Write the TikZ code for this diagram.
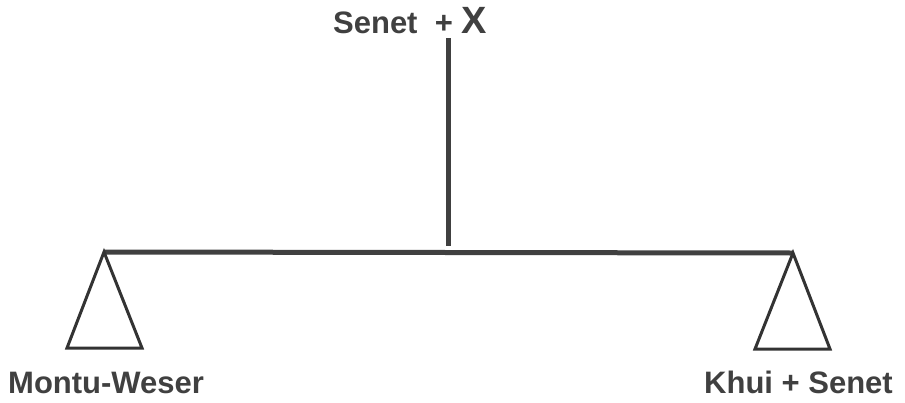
\documentclass[tikz,border=0pt]{standalone}
\usepackage{fontspec}
\setmainfont{Liberation Sans}
\usepackage{tikz}
\usetikzlibrary{positioning,calc}

\begin{document}
\begin{tikzpicture}[
    x=1pt, y=-1pt,
    lab/.style={font=\fontsize{31}{36}\selectfont\bfseries, text=black!75, inner sep=0pt},
    beam/.style={line width=5pt, draw=black!75},
    post/.style={line width=3pt, draw=black!80, line join=miter},
]
\useasboundingbox (0,0) rectangle (905,402);

% top label and pole
\node[lab, anchor=base] (top) at (410,33) {Senet\ \ + \fontsize{38}{40}\selectfont X};
\coordinate (poletop) at (448,38);
\coordinate (polebot) at (448,246);
\draw[beam] (poletop) -- (polebot);

% beam
\coordinate (bl) at (104,252);
\coordinate (br) at (793,253);
\draw[beam] (bl) -- (br);

% supports
\draw[post] (bl) -- (67,348) -- (142,348) -- cycle;
\draw[post] (br) -- (755,349) -- (830,349) -- cycle;

% bottom labels
\node[lab, anchor=base west] (left) at (8,393) {Montu-Weser};
\node[lab, anchor=base east] (right) at (893,393) {Khui + Senet};
\end{tikzpicture}
\end{document}
